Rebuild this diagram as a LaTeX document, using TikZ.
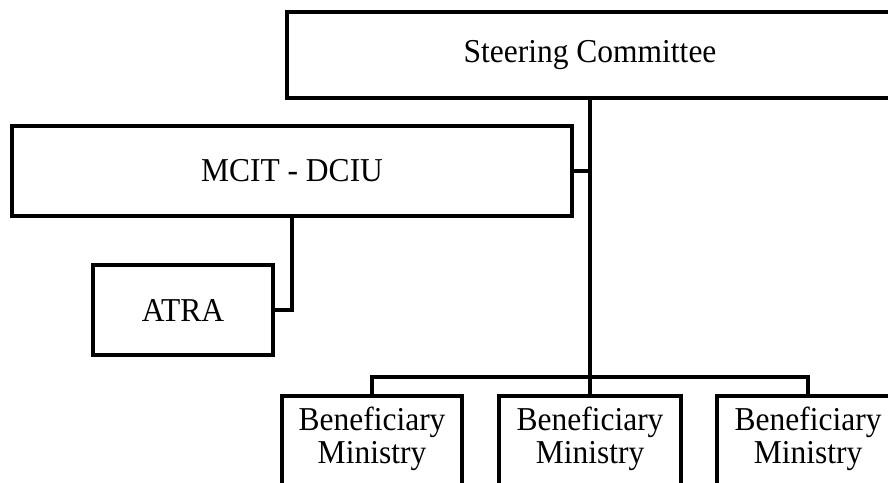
\documentclass[tikz,border=0pt]{standalone}
\usepackage{fontspec}
\setmainfont{Liberation Serif}
\newcommand{\benef}{\fontsize{31.5}{31}\selectfont\scalebox{1}[1.06]{\begin{tabular}{@{}c@{}}Beneficiary\\Ministry\end{tabular}}\rule[-49pt]{0pt}{1pt}}
\begin{document}
\begin{tikzpicture}[x=1pt,y=-1pt,
  box/.style={draw=black,line width=4.5pt,fill=white,inner sep=0pt,align=center,
    font=\fontsize{31.5}{33}\selectfont},
  conn/.style={draw=black,line width=4.5pt}]
\useasboundingbox (0,0) rectangle (888,482);
\clip (0,0) rectangle (888,482);
\fill[white] (0,0) rectangle (888,482);
\node[box,minimum width=606pt,minimum height=86pt] (steer) at (590,55) {\scalebox{1}[1.06]{Steering Committee}};
\node[box,minimum width=560pt,minimum height=90pt] (mcit) at (292,171) {\scalebox{1}[1.06]{MCIT - DCIU}};
\node[box,minimum width=180pt,minimum height=90pt] (atra) at (183,310) {\scalebox{1}[1.06]{ATRA}};
\node[box,minimum width=180pt,minimum height=110pt] (b1) at (372,451) {\benef};
\node[box,minimum width=182pt,minimum height=110pt] (b2) at (590,451) {\benef};
\node[box,minimum width=182pt,minimum height=110pt] (b3) at (808,451) {\benef};
\coordinate (j) at (590,377);
\draw[conn] (steer.south) -- (j);
\draw[conn] (mcit.east) -- (mcit.east -| steer.south);
\draw[conn] (mcit.south) |- (atra.east);
\draw[conn] (b1.north) |- (j) -| (b3.north);
\draw[conn] (j) -- (b2.north);
\end{tikzpicture}
\end{document}
